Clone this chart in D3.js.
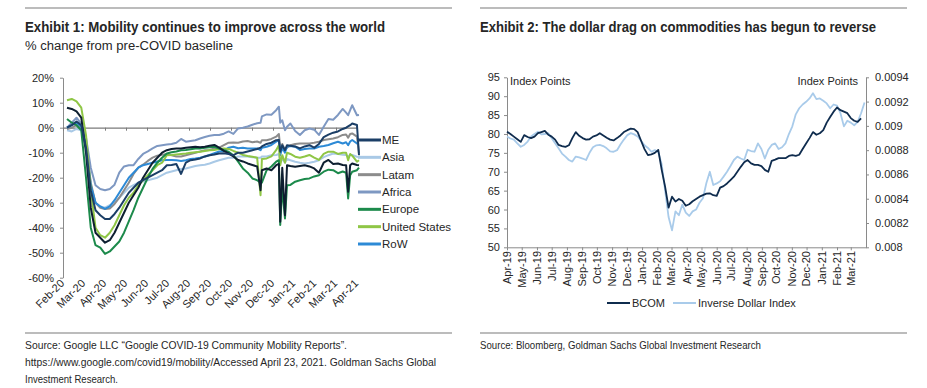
<!DOCTYPE html>
<html>
<head>
<meta charset="utf-8">
<script src="https://cdn.jsdelivr.net/npm/d3@7"></script>
<style>
  body { margin: 0; background: #fff; }
  svg { display: block; font-family: "Liberation Sans", Arial, sans-serif; }
  .cond { font-family: "Liberation Sans Narrow", "Liberation Sans", sans-serif; }
</style>
</head>
<body>
<svg width="927" height="388"></svg>
<script>
// ---------- Exhibit 1: mobility, % change from baseline ----------
const mobDates = [
  "2020-02-15","2020-02-22","2020-02-29","2020-03-07","2020-03-14","2020-03-21","2020-03-28","2020-04-04","2020-04-11","2020-04-18",
  "2020-04-25","2020-05-02","2020-05-09","2020-05-16","2020-05-23","2020-05-30","2020-06-06","2020-06-13","2020-06-20","2020-06-27",
  "2020-07-04","2020-07-11","2020-07-18","2020-07-25","2020-08-01","2020-08-08","2020-08-15","2020-08-22","2020-08-29","2020-09-05",
  "2020-09-12","2020-09-19","2020-09-26","2020-10-03","2020-10-10","2020-10-17","2020-10-24","2020-10-31","2020-11-07","2020-11-14",
  "2020-11-21",
  "2020-11-26","2020-11-28","2020-12-05","2020-12-12","2020-12-19","2020-12-23","2020-12-25","2020-12-28","2021-01-01","2021-01-04",
  "2021-01-09","2021-01-16","2021-01-23","2021-01-30","2021-02-06","2021-02-13","2021-02-20","2021-02-27","2021-03-06","2021-03-13",
  "2021-03-20","2021-03-27","2021-04-01","2021-04-04","2021-04-07","2021-04-10","2021-04-17","2021-04-20"
];

const me = [0,1,2.5,1,-8,-25,-33,-35,-36.5,-36.5, -34.5,-32,-29,-26,-24,-22,-21,-20,-19,-18,
  -17,-15,-14.9,-14.5,-18.5,-14,-13,-12.7,-12.3,-11.5, -11,-10.7,-10.3,-10.2,-10.5,-11,-10,-10,-9.5,-9, -8.5,
  -8,-7.5,-6.5,-6,-5,-4.9,-9.6,-7,-9,-7, -7.2,-7.5,-8.3,-7.5,-7,-8,-6.5,-3.8,-2.8,-2, -1.5,-0.5,0,0.5,1,1.7,1.1,-11];
const asia = [-1,-1.5,-0.5,-1,-8,-24,-30,-31.5,-32,-31, -30,-28,-26,-24,-23,-22,-21.5,-21,-20.5,-20,
  -19,-18,-17.5,-17,-16.5,-16.3,-15.8,-15.3,-15,-14.8, -14.3,-13.6,-13,-12.5,-12,-12,-11.5,-11.5,-11.5,-11.8, -12,
  -12,-11.5,-11.5,-11,-10.9,-10.5,-14,-12.5,-14,-12.5, -13,-13.6,-14,-14.3,-14,-13.6,-13,-11.8,-11,-10.3, -10.5,-10.8,-10.9,-11.5,-10.9,-10.9,-11.6,-11.7];
const latam = [-0.5,0,1,0.5,-6,-22,-30,-32,-32.5,-32.3, -30.5,-28,-25,-22,-18.5,-16,-14.8,-13.3,-12,-11.2,
  -10.8,-10.5,-11,-11.5,-11.5,-11,-10.5,-10,-9.5,-9, -8.9,-8.3,-8,-7,-6,-5.9,-6,-5.5,-5.3,-5.8, -5.5,
  -6,-5,-5,-4.5,-3.6,-2.5,-8,-6.5,-9,-8, -7,-6.5,-6.3,-6.3,-6.3,-6,-5.6,-4.9,-4.6,-4.3, -3.8,-2.9,-2.7,-4,-2.5,-2.3,-3.6,-10.3];
const africa = [0,2,4,1.5,-4,-16,-23,-24.5,-25,-24.5, -22.8,-18,-15.5,-15,-15,-12.5,-10.5,-9.5,-8.3,-7.3,
  -7,-6.7,-6.5,-6,-4.5,-5.6,-5.3,-5,-4.3,-3.7, -3.2,-2.9,-2.9,-2.4,-1.5,-2.5,-0.3,0,0.5,1.2, 1.8,
  2,4.5,5.3,5.2,7,8.4,2,3,-1,0.4, 1.7,-1.3,-2.9,-1,-0.3,-0.8,-2.9,0.4,3.5,3.2, 5.1,7.5,6,5,7,9,5,5.1];
const europe = [3.5,2,1,-1,-20,-40,-47,-48,-50.5,-49.5, -47.5,-45.5,-42,-37.5,-33,-28,-24,-20,-16.5,-14,
  -12,-10.3,-9.8,-9.5,-9,-8.9,-8.6,-8.3,-8.3,-8, -7.8,-7.6,-8.3,-9,-9.6,-11,-13.6,-16.3,-18,-20.3, -21,
  -22,-22,-17,-15.5,-13.6,-13,-38.9,-24,-36.3,-23, -22.9,-21.6,-21,-20.5,-20.3,-19.5,-19,-17.6,-16.8,-17, -18.2,-17.5,-18,-28.3,-19,-17.6,-17,-16];
const unitedStates = [11,11.5,10.5,8,-3,-25,-40,-43,-44,-42, -39,-35,-31,-28,-26,-23,-21,-19,-17,-15,
  -14,-11,-10.9,-10.7,-10.5,-10.3,-10,-9.8,-9.6,-9.3, -9,-8.9,-8.5,-8.3,-8.5,-9.3,-10,-10.9,-11.3,-11.6, -12,
  -27,-12.5,-12.3,-11.5,-9,-7,-15,-11,-14,-10, -10.5,-11.6,-12,-11.5,-10.9,-12,-12.9,-10.5,-9.6,-9.6, -10.5,-10,-10,-13,-10.5,-11.2,-13.6,-13];
const rowWorld = [0,1,2,0.5,-7,-23,-30,-31.5,-32.5,-31.5, -29,-26,-23,-20,-18,-16,-15,-14.5,-14,-13.5,
  -13,-12.9,-12.9,-13,-13.3,-13,-12.5,-12.3,-12,-11.5, -10.9,-10.2,-9.5,-9.3,-8,-7.6,-8.2,-8,-8.3,-8.3, -8.3,
  -9,-8,-7.6,-6.9,-5.6,-5,-11,-8,-10,-7.5, -7.3,-7.6,-8.9,-8.5,-8.3,-8.3,-7.6,-7.3,-6.9,-6.2, -5.6,-6.3,-5.8,-7,-5.5,-4.9,-6.3,-6.3];
// dark line drawn in the chart without its own legend entry
const darkLine = [8,7.5,6.5,4,-10,-32,-42,-44,-46,-45, -42,-38,-34,-30,-27,-24,-20,-17,-14,-12,
  -10,-9,-8.5,-8.3,-8.3,-8,-7.8,-7.6,-7.8,-7.6, -7.2,-6.9,-8,-9.3,-10.3,-11.5,-12.9,-13.5,-14.3,-14.9, -15.5,
  -25,-17,-16.3,-17,-15,-14.5,-37.6,-16,-35,-15, -15.3,-15.6,-15.3,-15,-15.5,-16.3,-18,-14,-12.9,-14.5, -14.3,-14.9,-15,-25.6,-15,-14.3,-14.9,-15];

const mobMonths = ["Feb-20","Mar-20","Apr-20","May-20","Jun-20","Jul-20","Aug-20","Sep-20","Oct-20","Nov-20","Dec-20","Jan-21","Feb-21","Mar-21","Apr-21"];
const mobTicks = [20,10,0,-10,-20,-30,-40,-50,-60];

// ---------- Exhibit 2: BCOM vs inverse dollar (weekly from Apr-19) ----------
const bcom = [80.6,80.0,79.3,78.6,77.9,79.7,79.2,78.9,79.3,80.2, 80.5,80.8,79.8,79.3,78.5,77.1,76.8,76.6,77.0,78.9,
  80.5,79.5,78.9,78.5,78.6,79.3,79.6,80.2,79.6,79.0, 78.5,78.3,78.9,79.6,80.5,81.0,81.4,81.3,80.5,78.2,
  76.0,74.4,74.6,75.0,75.8,70.5,66.0,60.5,63.4,62.1, 62.8,62.3,61.0,61.4,62.2,62.8,63.4,63.8,64.2,64.3,
  63.8,63.6,65.8,66.2,66.9,67.8,68.7,70.0,71.3,72.5, 73.1,72.2,71.8,71.8,71.5,70.5,70.0,72.9,73.2,73.6,
  73.6,73.6,74.2,74.4,74.2,74.5,76.0,77.5,78.9,80.5, 79.8,80.2,81.0,83.0,84.5,85.9,87.0,86.3,85.9,85.5,
  84.2,83.5,83.2,84.1];
const invDollar = [0.008912,0.008896,0.008887,0.008856,0.008828,0.008843,0.008871,0.008912,0.008933,0.008952,
  0.008930,0.008933,0.008940,0.008899,0.008856,0.008815,0.008772,0.008747,0.008719,0.008706,
  0.008747,0.008740,0.008731,0.008719,0.008778,0.008824,0.008840,0.008843,0.008834,0.008815,
  0.008790,0.008787,0.008800,0.008846,0.008887,0.008924,0.008940,0.008930,0.008912,0.008877,
  0.008840,0.008818,0.008787,0.008800,0.008784,0.008684,0.008467,0.008249,0.008140,0.008296,
  0.008264,0.008352,0.008286,0.008258,0.008296,0.008311,0.008367,0.008404,0.008529,0.008622,
  0.008513,0.008526,0.008544,0.008582,0.008622,0.008669,0.008719,0.008747,0.008731,0.008719,
  0.008803,0.008793,0.008787,0.008856,0.008809,0.008731,0.008803,0.008843,0.008856,0.008809,
  0.008824,0.008856,0.008933,0.008996,0.009095,0.009145,0.009176,0.009198,0.009226,0.009269,
  0.009220,0.009226,0.009207,0.009185,0.009145,0.009176,0.009167,0.009104,0.008996,0.009042,
  0.009027,0.009005,0.009033,0.009104,0.009192];
const leftTicks2 = [50,55,60,65,70,75,80,85,90,95];
const rightTicks2 = [0.008,0.0082,0.0084,0.0086,0.0088,0.009,0.0092,0.0094];

const svg = d3.select("svg");
const parse = d3.timeParse("%Y-%m-%d");
const axisGrey = "#8a8a8a";
const ink = "#262626";

// ---------- header / footer text and rules ----------
const rule = (x1, x2, y) => svg.append("line")
  .attr("x1", x1).attr("x2", x2).attr("y1", y).attr("y2", y)
  .attr("stroke", "#a6a6a6").attr("stroke-width", 1.5);
rule(25, 452, 8); rule(480, 907, 8);
rule(25, 452, 333); rule(480, 907, 333);

// condensed-looking text: squeezed to the width it has in the reference
const txt = (s, x, y, size, len, bold, stretchY = 1) => svg.append("text")
  .attr("class", "cond")
  .attr("transform", `translate(${x},${y}) scale(1,${stretchY})`)
  .attr("font-size", size).attr("font-weight", bold ? "bold" : "normal")
  .attr("fill", ink).attr("textLength", len).attr("lengthAdjust", "spacingAndGlyphs")
  .text(s);

txt("Exhibit 1: Mobility continues to improve across the world", 25, 32, 14.5, 360, true, 1.04);
txt("% change from pre-COVID baseline", 25, 50, 13, 208, false, 1.04);
txt("Exhibit 2: The dollar drag on commodities has begun to reverse", 480, 32, 13.2, 396, true, 1.14);

txt("Source: Google LLC \u201CGoogle COVID-19 Community Mobility Reports\u201D.", 25, 349, 10.5, 322, false);
txt("https://www.google.com/covid19/mobility/Accessed April 23, 2021. Goldman Sachs Global", 25, 366, 10, 411, false, 1.05);
txt("Investment Research.", 25, 383, 10.5, 93, false);
txt("Source: Bloomberg, Goldman Sachs Global Investment Research", 480, 349, 10.5, 281, false);

// ---------- Exhibit 1 chart ----------
const x1 = d3.scaleTime()
  .domain([parse("2020-02-15"), parse("2021-04-20")])
  .range([67, 359]);
const xMonths = d3.scalePoint().domain(mobMonths).range([63, 357]);
const y1 = d3.scaleLinear().domain([-60, 20]).range([277.7, 77.7]);

const g1 = svg.append("g");

const yAxis1 = g1.append("g")
  .attr("transform", "translate(63,0)")
  .call(d3.axisLeft(y1).tickValues(mobTicks).tickSize(3).tickSizeOuter(0).tickPadding(6)
    .tickFormat(d => d + "%"));
yAxis1.select(".domain").attr("stroke", axisGrey);
yAxis1.selectAll(".tick line").attr("stroke", axisGrey);
yAxis1.selectAll("text").attr("font-size", 11).attr("fill", ink);

const zeroAxis = g1.append("g")
  .attr("transform", `translate(0,${y1(0)})`)
  .call(d3.axisBottom(xMonths).tickSize(3).tickSizeOuter(0).tickFormat(""));
zeroAxis.select(".domain").attr("stroke", "#7a7a7a").attr("stroke-width", 1.2);
zeroAxis.selectAll(".tick line").attr("stroke", "#7a7a7a");

g1.selectAll(".mlab")
  .data(mobMonths)
  .join("text")
    .attr("class", "mlab")
    .attr("transform", d => `translate(${xMonths(d) + 2},284) rotate(-45)`)
    .attr("text-anchor", "end")
    .attr("font-size", 11)
    .attr("fill", ink)
    .text(d => d);

const mobSeries = [
  { name: "Asia", color: "#a9c9e6", values: asia },
  { name: "Latam", color: "#8c8c8c", values: latam },
  { name: "Africa", color: "#7e98c2", values: africa },
  { name: "RoW", color: "#2d8ad6", values: rowWorld },
  { name: "United States", color: "#8fc646", values: unitedStates },
  { name: "Europe", color: "#1c8a4b", values: europe },
  { name: "", color: "#0e1f31", values: darkLine },
  { name: "ME", color: "#1b3e66", values: me }
];

const line1 = d3.line()
  .x((d, i) => x1(parse(mobDates[i])))
  .y(d => y1(d));

g1.selectAll(".mob")
  .data(mobSeries)
  .join("path")
    .attr("class", "mob")
    .attr("fill", "none")
    .attr("stroke", d => d.color)
    .attr("stroke-width", 2)
    .attr("stroke-linejoin", "round")
    .attr("d", d => line1(d.values));

const legendOrder = ["ME", "Asia", "Latam", "Africa", "Europe", "United States", "RoW"];
const legY = d3.scalePoint().domain(legendOrder).range([140, 244]);
const leg1 = g1.selectAll(".leg1")
  .data(legendOrder)
  .join("g")
    .attr("class", "leg1")
    .attr("transform", d => `translate(358,${legY(d)})`);
leg1.append("line")
  .attr("x2", 23)
  .attr("stroke", d => mobSeries.find(s => s.name === d).color)
  .attr("stroke-width", 3);
leg1.append("text")
  .attr("x", 24).attr("dy", "0.35em")
  .attr("font-size", 11.5).attr("fill", ink)
  .text(d => d);

// ---------- Exhibit 2 chart ----------
const start2 = parse("2019-04-01");
const x2 = d3.scaleTime().domain([start2, parse("2021-04-01")]).range([507, 866]);
const yL = d3.scaleLinear().domain([50, 95]).range([247.3, 77.3]);
const yR = d3.scaleLinear().domain([0.008, 0.0094]).range([247.3, 77.3]);
const weekOf = i => d3.timeDay.offset(start2, 7 * i);

const g2 = svg.append("g");

const styleAxis = ax => {
  ax.select(".domain").attr("stroke", axisGrey);
  ax.selectAll(".tick line").attr("stroke", axisGrey);
  ax.selectAll("text").attr("font-size", 11).attr("fill", ink);
};

styleAxis(g2.append("g")
  .attr("transform", "translate(507,0)")
  .call(d3.axisLeft(yL).tickValues(leftTicks2).tickSize(3).tickSizeOuter(0).tickPadding(4)));
styleAxis(g2.append("g")
  .attr("transform", "translate(866,0)")
  .call(d3.axisRight(yR).tickValues(rightTicks2).tickSize(3).tickSizeOuter(0).tickPadding(6)
    .tickFormat(d => String(+d.toFixed(4)))));

const months2 = d3.timeMonth.range(start2, parse("2021-03-02"));
styleAxis(g2.append("g")
  .attr("transform", `translate(0,${yL(50)})`)
  .call(d3.axisBottom(x2).tickValues(months2).tickSize(3).tickSizeOuter(0).tickFormat("")));

g2.selectAll(".mlab2")
  .data(months2)
  .join("text")
    .attr("class", "mlab2")
    .attr("transform", d => `translate(${x2(d)},251) rotate(-90)`)
    .attr("text-anchor", "end")
    .attr("dy", "0.35em")
    .attr("font-size", 11)
    .attr("fill", ink)
    .text(d3.timeFormat("%b-%y"));

g2.append("path")
  .attr("fill", "none").attr("stroke", "#a9cbea").attr("stroke-width", 1.8)
  .attr("stroke-linejoin", "round")
  .attr("d", d3.line().x((d, i) => x2(weekOf(i))).y(d => yR(d))(invDollar));
g2.append("path")
  .attr("fill", "none").attr("stroke", "#0f2c4e").attr("stroke-width", 1.8)
  .attr("stroke-linejoin", "round")
  .attr("d", d3.line().x((d, i) => x2(weekOf(i))).y(d => yL(d))(bcom));

g2.append("text").attr("x", 510).attr("y", 85).attr("font-size", 11).attr("fill", ink).text("Index Points");
g2.append("text").attr("x", 858).attr("y", 85).attr("text-anchor", "end")
  .attr("font-size", 11).attr("fill", ink).text("Index Points");

const leg2 = [
  { name: "BCOM", color: "#0f2c4e", x: 607 },
  { name: "Inverse Dollar Index", color: "#a9cbea", x: 673 }
];
const lg2 = g2.selectAll(".leg2").data(leg2).join("g")
  .attr("class", "leg2")
  .attr("transform", d => `translate(${d.x},303)`);
lg2.append("line").attr("x2", 23).attr("stroke", d => d.color).attr("stroke-width", 2);
lg2.append("text").attr("x", 25).attr("dy", "0.35em").attr("font-size", 11)
  .attr("fill", ink).text(d => d.name);
</script>
</body>
</html>
